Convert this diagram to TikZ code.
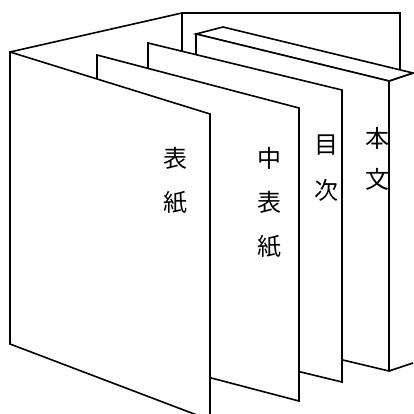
\documentclass[tikz,border=0pt]{standalone}
\usepackage{fontspec}
\newfontfamily\jp{Noto Sans CJK JP}
\usetikzlibrary{positioning}

\begin{document}
\begin{tikzpicture}[
        x=1pt, y=-1pt,
        panel/.style={draw, fill=white, line width=1.6pt, line join=miter},
        edge/.style={line width=1.6pt},
        tate/.style={align=center, inner sep=0pt, font=\jp\fontsize{24}{#1}\selectfont},
        ]
        \useasboundingbox (0,0) rectangle (414,414);
        \clip (0,0) rectangle (414,414);

        % back board
        \draw[edge] (10,52) -- (182,13) -- (400,13) -- (400,90);
        \draw[edge] (182,13) -- (182,60);

        % body block
        \fill[white] (389,81) -- (413,73) -- (413,363) -- (389,371) -- cycle;
        \draw[edge] (389,81) -- (413,73) (389,371) -- (413,363);
        \draw[panel] (196,34) -- (223,27) -- (413,73) -- (389,81) -- cycle;
        \draw[panel] (196,34) -- (389,81) -- (389,371) -- (196,325) -- cycle;

        % contents, inner cover, cover
        \draw[panel] (148,43) -- (342,90) -- (342,382) -- (148,335) -- cycle;
        \draw[panel] (97,55) -- (299,108) -- (299,401) -- (97,348) -- cycle;
        \draw[panel] (10,52) -- (210,114) -- (210,420) -- (10,344) -- cycle;

        \node[tate=44] (cover)      at (175,181)   {表\\紙};
        \node[tate=44] (innercover) at (269,203)   {中\\表\\紙};
        \node[tate=46] (contents)   at (326,168)   {目\\次};
        \node[tate=41] (body)       at (377,158.5) {本\\文};
      \end{tikzpicture}
\end{document}
